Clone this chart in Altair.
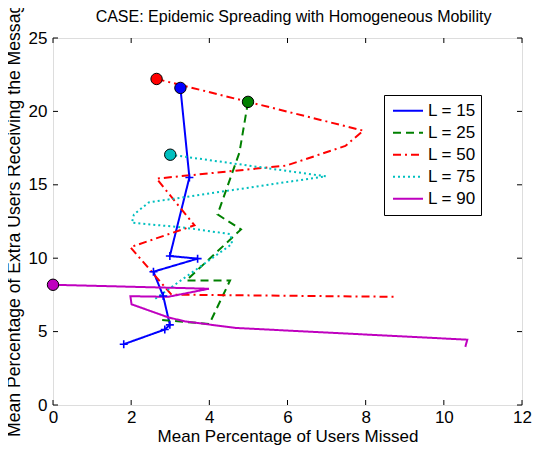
import altair as alt
import pandas as pd

labels = ["L = 15", "L = 25", "L = 50", "L = 75", "L = 90"]
colors = ["#0000ff", "#008000", "#ff0000", "#00bfbf", "#bf00bf"]
dashes = [[1, 0], [8, 5], [8, 4, 2, 4], [2, 3], [1, 0]]

title_text = "CASE: Epidemic Spreading with Homogeneous Mobility"

x15 = [3.26, 3.49, 2.99, 3.70, 2.57, 2.82, 2.99, 2.86, 1.81]
y15 = [21.6, 15.5, 10.15, 9.97, 9.08, 7.42, 5.46, 5.14, 4.14]

x25 = [4.99, 4.77, 4.21, 4.81, 3.41, 4.53, 4.00, 2.70]
y25 = [20.65, 17.2, 12.98, 11.96, 8.48, 8.48, 5.52, 5.81]

x50 = [2.65, 7.94, 7.48, 5.97, 2.65, 3.62, 1.98, 3.03, 8.74]
y50 = [22.21, 18.69, 17.65, 16.31, 15.42, 12.24, 10.75, 7.52, 7.37]

x75 = [3.00, 6.98, 2.45, 2.07, 2.02, 3.37, 4.54, 4.58, 2.57]
y75 = [17.05, 15.58, 13.8, 12.98, 12.42, 12.08, 11.64, 10.97, 7.15]

x90 = [0.0, 3.99, 2.95, 1.98, 2.01, 2.95, 3.37, 4.67, 10.6, 10.55]
y90 = [8.19, 7.92, 7.37, 7.41, 6.86, 5.97, 5.70, 5.25, 4.45, 3.96]

x_ticks = [0, 2, 4, 6, 8, 10, 12]
y_ticks = [0, 5, 10, 15, 20, 25]

rows = []
for lab, xs, ys in zip(labels, [x15, x25, x50, x75, x90], [y15, y25, y50, y75, y90]):
    for i, (a, b) in enumerate(zip(xs, ys)):
        rows.append({"L": lab, "x": a, "y": b, "i": i})
df = pd.DataFrame(rows)

FONT = "Liberation Sans"
W, H = 469, 367

xscale = alt.Scale(domain=[0, 12], nice=False, zero=False)
yscale = alt.Scale(domain=[0, 25], nice=False, zero=False)

xaxis = alt.Axis(values=x_ticks, grid=False, domain=False, ticks=False, labelFontSize=17,
                 labelFont=FONT, labelColor="black", labelPadding=4, title="Mean Percentage of Users Missed",
                 titleFont=FONT, titleFontSize=17, titleFontWeight="normal", titleColor="black",
                 titlePadding=3, labelFlush=False)
yaxis = alt.Axis(values=y_ticks, grid=False, domain=False, ticks=False, labelFontSize=17,
                 labelFont=FONT, labelColor="black", labelPadding=6,
                 title="Mean Percentage of Extra Users Receiving the Message",
                 titleFont=FONT, titleFontSize=17.6, titleFontWeight="normal", titleColor="black",
                 titlePadding=5, titleY=177, labelFlush=False)

X = alt.X("x:Q", scale=xscale, axis=xaxis)
Y = alt.Y("y:Q", scale=yscale, axis=yaxis)

legend = alt.Legend(title=None, orient="none", legendX=331, legendY=57, fillColor="white",
                    strokeColor="black", padding=5, labelFont=FONT, labelFontSize=17,
                    labelColor="black", symbolType="stroke", symbolSize=900, symbolStrokeWidth=2,
                    rowPadding=0, clipHeight=21.5, symbolOffset=3, labelOffset=4, symbolOpacity=1)

base = alt.Chart(df)

lines = base.mark_line(strokeWidth=2, clip=True).encode(
    x=X, y=Y,
    color=alt.Color("L:N", scale=alt.Scale(domain=labels, range=colors), legend=legend),
    strokeDash=alt.StrokeDash("L:N", scale=alt.Scale(domain=labels, range=dashes), legend=legend),
    order="i:Q",
)

plus = base.transform_filter("datum.L == 'L = 15' && datum.i > 0").mark_point(
    shape="M-1,0L1,0M0,-1L0,1", size=64, strokeWidth=1.6, color="#0000ff", filled=False, opacity=1
).encode(x=X, y=Y)

starts = base.transform_filter("datum.i == 0").mark_point(
    filled=True, size=130, stroke="black", strokeWidth=1, opacity=1, strokeOpacity=1, fillOpacity=1
).encode(
    x=X, y=Y,
    fill=alt.Fill("L:N", scale=alt.Scale(domain=labels, range=colors), legend=None),
)

xt = pd.DataFrame({"x": x_ticks})
yt = pd.DataFrame({"y": y_ticks})
tick_bottom = alt.Chart(xt).mark_rule(color="black", strokeWidth=1).encode(
    x=X, y=alt.value(H), y2=alt.value(H - 5))
tick_top = alt.Chart(xt).mark_rule(color="black", strokeWidth=1).encode(
    x=X, y=alt.value(0), y2=alt.value(5))
tick_left = alt.Chart(yt).mark_rule(color="black", strokeWidth=1).encode(
    y=Y, x=alt.value(0), x2=alt.value(5))
tick_right = alt.Chart(yt).mark_rule(color="black", strokeWidth=1).encode(
    y=Y, x=alt.value(W), x2=alt.value(W - 5))

title_layer = alt.Chart(pd.DataFrame({"t": [title_text]})).mark_text(
    font=FONT, fontSize=16, color="black", align="center", baseline="alphabetic", clip=False
).encode(x=alt.value(W / 2 + 6), y=alt.value(-16), text="t:N")

chart = alt.layer(lines, plus, starts, tick_bottom, tick_top, tick_left, tick_right, title_layer).properties(
    width=W, height=H,
    autosize=alt.AutoSizeParams(type="none"),
    padding={"left": 45, "top": 30, "right": 10, "bottom": 41},
).configure_view(stroke="black", strokeWidth=1.5).configure(background="white")

chart.save("out.html", embed_options={"renderer": "svg", "actions": False})
